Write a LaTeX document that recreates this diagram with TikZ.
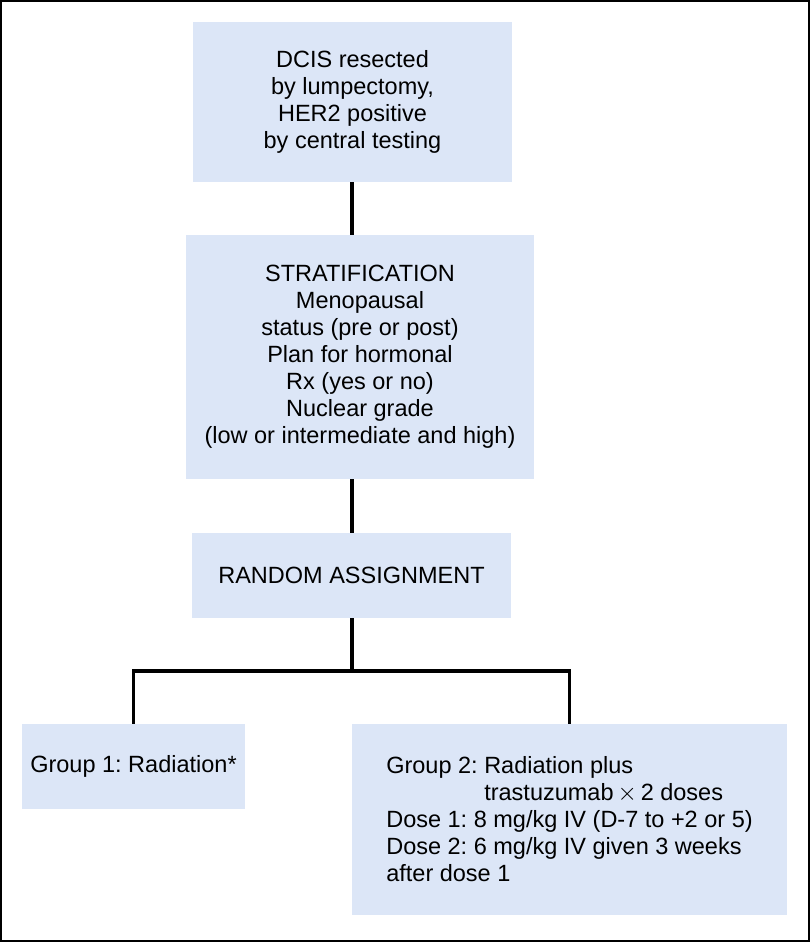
\documentclass[tikz,border=0pt]{standalone}
\usepackage{fontspec}
\setmainfont{Liberation Sans}
\usetikzlibrary{arrows,shapes}
\definecolor{boxblue}{RGB}{220,230,247}

\begin{document}
\frenchspacing
\begin{tikzpicture}[x=1pt,y=-1pt,auto]
                \tikzstyle{flowbox}=[fill=boxblue,inner sep=0pt,align=center,font=\fontsize{23.5}{27}\selectfont]
                \tikzstyle{link}=[line width=3.5pt,line join=miter]
                
                \useasboundingbox (0,0) rectangle (810,942);
                \draw[line width=2pt] (1,1) rectangle (809,941);
                
                \node[flowbox,minimum width=319,minimum height=160] (resect) at (352.5,102)
                    {DCIS resected\\ by lumpectomy,\\HER2 positive\\by central testing};
                \node[flowbox,minimum width=348,minimum height=244] (strat) at (360,357)
                    {STRATIFICATION\\Menopausal\\ status (pre or post)\\Plan for hormonal\\ Rx (yes or no)\\Nuclear grade\\(low or intermediate and high)};
                \node[flowbox,minimum width=319,minimum height=85] (rand) at (351.5,575.5)
                    {RANDOM ASSIGNMENT};
                
                \node[flowbox,minimum width=223,minimum height=85] (grpone) at (133.5,766.5)
                    {Group 1: Radiation*};
                \node[flowbox,align=left,minimum width=435,minimum height=191] (grptwo) at (569.5,819.5)
                    {Group 2: Radiation plus\\\hphantom{Group 2: }trastuzumab\,$\times$\,2 doses\\Dose 1: 8 mg/kg IV (D-7 to +2 or 5)\\Dose 2: 6 mg/kg IV given 3 weeks\\after dose 1};
                
                \coordinate (fork) at (352,671);
                
                \draw[link] (resect.south -| 352,0) -- (strat.north -| 352,0);
                \draw[link] (strat.south -| 352,0) -- (rand.north -| 352,0);
                \draw[link] (rand.south -| fork) -- (fork);
                \draw[link] (grpone.north) |- (fork) -| (grptwo.north);
                
                \end{tikzpicture}
\end{document}
